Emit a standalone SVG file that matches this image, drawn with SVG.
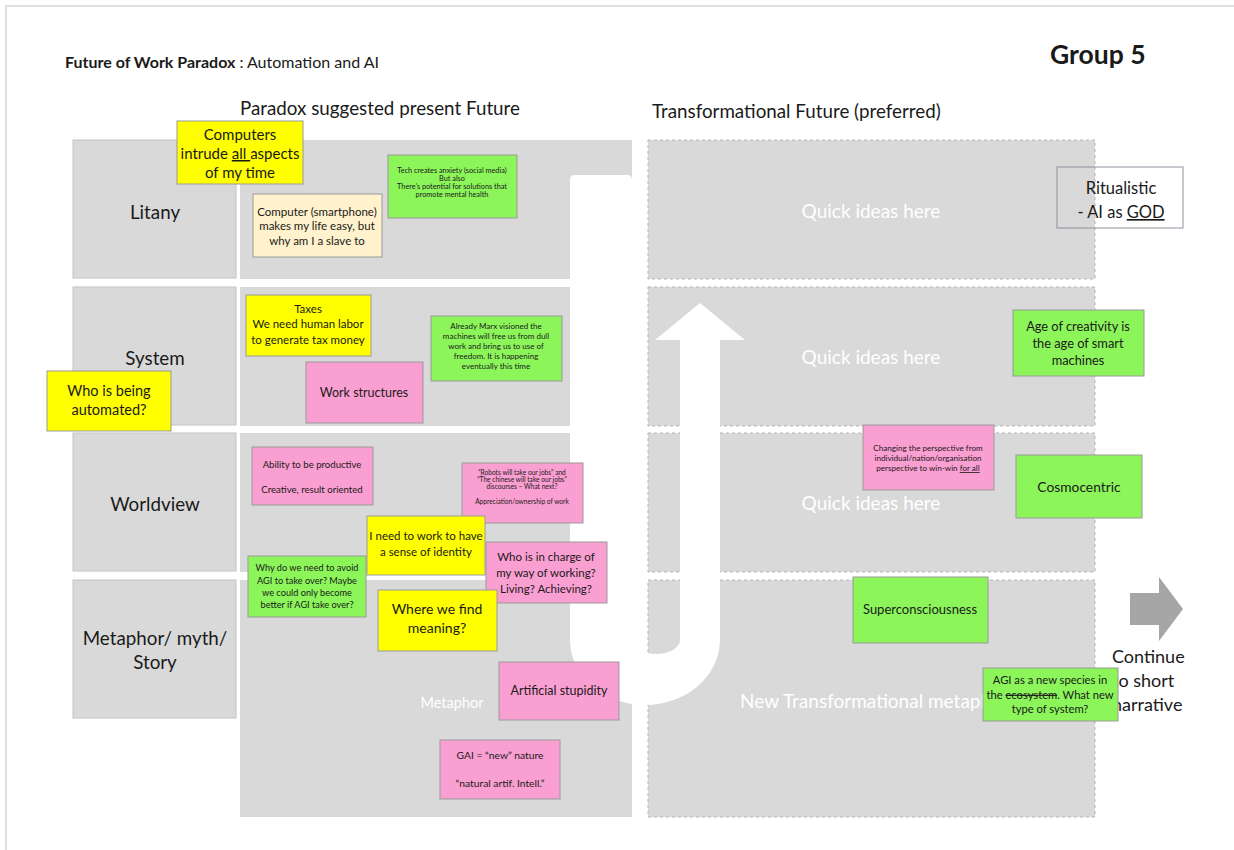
<svg xmlns="http://www.w3.org/2000/svg" width="1234" height="850" viewBox="0 0 1234 850">
  <style>
    text { font-family: Lato, "Liberation Sans", sans-serif; fill: #1a1a1a; }
    .label { font-size: 18.8px; text-anchor: middle; }
    .head { font-size: 18.8px; }
    .rowbox { fill: #d9d9d9; stroke: #c4c4c4; stroke-width: 1; }
    .panel { fill: #d9d9d9; }
    .dpanel { fill: #d9d9d9; stroke: #b5b5b5; stroke-width: 1; stroke-dasharray: 3 3; }
    .ghost { fill: #ffffff; font-size: 19px; }
    .note { stroke: #9a9a9a; stroke-width: 1; }
    .yellow { fill: #ffff00; }
    .cream { fill: #fff2cc; }
    .green { fill: #8cf55a; }
    .pink { fill: #fa9fd2; }
    .nt { text-anchor: middle; }
  </style>
  <defs>
    <!-- placeholder text in the last transformational cell runs under a sticky note -->
    <clipPath id="cell4-clip">
      <rect x="648" y="580" width="335" height="237"/>
    </clipPath>
  </defs>

  <!-- page frame -->
  <path d="M6,850 V6 H1234" fill="none" stroke="#d6d6d6" stroke-width="1.5"/>

  <!-- headings -->
  <g id="title">
    <text x="65" y="68" font-size="16"><tspan font-weight="bold">Future of Work Paradox</tspan> : Automation and AI</text>
    <text x="1050" y="64" font-size="26.5" font-weight="bold">Group 5</text>
    <text class="head" x="240" y="115">Paradox suggested present Future</text>
    <text class="head" x="652" y="118">Transformational Future (preferred)</text>
  </g>

  <!-- row labels -->
  <g id="row-litany">
    <rect class="rowbox" x="73" y="140" width="163" height="138"/>
    <text class="label" x="155" y="219">Litany</text>
  </g>
  <g id="row-system">
    <rect class="rowbox" x="73" y="287" width="163" height="138"/>
    <text class="label" x="155" y="365">System</text>
  </g>
  <g id="row-worldview">
    <rect class="rowbox" x="73" y="433" width="163" height="138"/>
    <text class="label" x="155" y="511">Worldview</text>
  </g>
  <g id="row-metaphor">
    <rect class="rowbox" x="73" y="580" width="163" height="138"/>
    <text class="label" x="155" y="645">Metaphor/ myth/</text>
    <text class="label" x="155" y="669">Story</text>
  </g>

  <!-- present-future column -->
  <g id="present-panels">
    <rect class="panel" x="240" y="140" width="392" height="139"/>
    <rect class="panel" x="240" y="287" width="392" height="139"/>
    <rect class="panel" x="240" y="433" width="392" height="139"/>
    <rect class="panel" x="240" y="580" width="392" height="237"/>
    <text class="ghost" x="452" y="708" style="font-size:14.5px;text-anchor:middle">Metaphor</text>
  </g>

  <!-- transformational column -->
  <g id="future-panels">
    <rect class="dpanel" x="648" y="140" width="447" height="139"/>
    <rect class="dpanel" x="648" y="287" width="447" height="139"/>
    <rect class="dpanel" x="648" y="433" width="447" height="139"/>
    <rect class="dpanel" x="648" y="580" width="447" height="237"/>
    <text class="ghost" x="871" y="218" text-anchor="middle">Quick ideas here</text>
    <text class="ghost" x="871" y="364" text-anchor="middle">Quick ideas here</text>
    <text class="ghost" x="871" y="510" text-anchor="middle">Quick ideas here</text>
    <text class="ghost" x="740" y="708" clip-path="url(#cell4-clip)">New Transformational metaphor</text>
  </g>

  <!-- connectors: U-turn arrow and continue arrow -->
  <g id="connectors">
    <path id="u-turn" fill="#ffffff" d="M570,180 Q570,175 575,175 L627,175 Q632,175 632,180 L632,640 A24,14 0 0 0 680,640 L680,340 L655,340 L700,303 L745,340 L720,340 L720,640 A75,65 0 0 1 570,640 Z"/>
    <path id="continue-arrow" fill="#a6a6a6" d="M1130,593 H1159 V577 L1183,609 L1159,641 V625 H1130 Z"/>
  </g>

  <g id="continue-text">
    <text x="1112" y="663" font-size="18">Continue</text>
    <text x="1112" y="687" font-size="18">to short</text>
    <text x="1112" y="711" font-size="18">narrative</text>
  </g>

  <!-- sticky notes -->
  <g id="note-computers">
    <rect class="note yellow" x="177" y="121" width="126" height="63"/>
    <text class="nt" x="240" y="140" font-size="15">Computers</text>
    <text class="nt" x="240" y="159" font-size="15">intrude <tspan text-decoration="underline">all </tspan>aspects</text>
    <text class="nt" x="240" y="178" font-size="15">of my time</text>
  </g>

  <g id="note-smartphone">
    <rect class="note cream" x="253" y="194" width="129" height="63"/>
    <text class="nt" x="317" y="216" font-size="11.5">Computer (smartphone)</text>
    <text class="nt" x="317" y="230" font-size="11.5">makes my life easy, but</text>
    <text class="nt" x="317" y="245" font-size="11.5">why am I a slave to</text>
  </g>

  <g id="note-anxiety">
    <rect class="note green" x="388" y="155" width="129" height="63"/>
    <text class="nt" x="452" y="173" font-size="7.3">Tech creates anxiety (social media)</text>
    <text class="nt" x="452" y="181" font-size="7.3">But also</text>
    <text class="nt" x="452" y="189" font-size="7.3">There's potential for solutions that</text>
    <text class="nt" x="452" y="197" font-size="7.3">promote mental health</text>
  </g>

  <g id="note-taxes">
    <rect class="note yellow" x="246" y="295" width="125" height="61"/>
    <text class="nt" x="308" y="313" font-size="11.5">Taxes</text>
    <text class="nt" x="308" y="328" font-size="11.5">We need human labor</text>
    <text class="nt" x="308" y="344" font-size="11.5">to generate tax money</text>
  </g>

  <g id="note-marx">
    <rect class="note green" x="431" y="316" width="131" height="65"/>
    <text class="nt" x="496" y="329" font-size="8">Already Marx visioned the</text>
    <text class="nt" x="496" y="339" font-size="8">machines will free us from dull</text>
    <text class="nt" x="496" y="349" font-size="8">work and bring us to use of</text>
    <text class="nt" x="496" y="359" font-size="8">freedom. It is happening</text>
    <text class="nt" x="496" y="369" font-size="8">eventually this time</text>
  </g>

  <g id="note-work-structures">
    <rect class="note pink" x="306" y="362" width="117" height="61"/>
    <text class="nt" x="364" y="397" font-size="12.5">Work structures</text>
  </g>

  <g id="note-automated">
    <rect class="note yellow" x="47" y="371" width="124" height="60"/>
    <text class="nt" x="109" y="396" font-size="14.5">Who is being</text>
    <text class="nt" x="109" y="415" font-size="14.5">automated?</text>
  </g>

  <g id="note-productive">
    <rect class="note pink" x="252" y="447" width="121" height="58"/>
    <text class="nt" x="312" y="468" font-size="9.6">Ability to be productive</text>
    <text class="nt" x="312" y="493" font-size="9.6">Creative, result oriented</text>
  </g>

  <g id="note-robots">
    <rect class="note pink" x="462" y="463" width="121" height="60"/>
    <text class="nt" x="522" y="475" font-size="6.6">“Robots will take our jobs” and</text>
    <text class="nt" x="522" y="482" font-size="6.6">“The chinese will take our jobs”</text>
    <text class="nt" x="522" y="489" font-size="6.6">discourses – What next?</text>
    <text class="nt" x="522" y="504" font-size="6.6">Appreciation/ownership of work</text>
  </g>

  <g id="note-identity">
    <rect class="note yellow" x="367" y="516" width="118" height="59"/>
    <text class="nt" x="426" y="540" font-size="11.5">I need to work to have</text>
    <text class="nt" x="426" y="556" font-size="11.5">a sense of identity</text>
  </g>

  <g id="note-in-charge">
    <rect class="note pink" x="486" y="542" width="121" height="61"/>
    <text class="nt" x="546" y="561" font-size="11.5">Who is in charge of</text>
    <text class="nt" x="546" y="577" font-size="11.5">my way of working?</text>
    <text class="nt" x="546" y="593" font-size="11.5">Living? Achieving?</text>
  </g>

  <g id="note-avoid-agi">
    <rect class="note green" x="248" y="556" width="118" height="61"/>
    <text class="nt" x="307" y="571" font-size="9.2">Why do we need to avoid</text>
    <text class="nt" x="307" y="584" font-size="9.2">AGI to take over? Maybe</text>
    <text class="nt" x="307" y="596" font-size="9.2">we could only become</text>
    <text class="nt" x="307" y="608" font-size="9.2">better if AGI take over?</text>
  </g>

  <g id="note-meaning">
    <rect class="note yellow" x="378" y="590" width="119" height="61"/>
    <text class="nt" x="437" y="614" font-size="14">Where we find</text>
    <text class="nt" x="437" y="633" font-size="14">meaning?</text>
  </g>

  <g id="note-stupidity">
    <rect class="note pink" x="499" y="662" width="120" height="58"/>
    <text class="nt" x="559" y="695" font-size="12.5">Artificial stupidity</text>
  </g>

  <g id="note-gai">
    <rect class="note pink" x="440" y="740" width="120" height="59"/>
    <text class="nt" x="500" y="759" font-size="10.3">GAI = “new” nature</text>
    <text class="nt" x="500" y="787" font-size="10.3">“natural artif. Intell.”</text>
  </g>

  <g id="note-ritualistic">
    <rect x="1057" y="167" width="126" height="61" fill="none" stroke="#8c919b" stroke-width="1"/>
    <text class="nt" x="1121" y="194" font-size="16.5">Ritualistic</text>
    <text class="nt" x="1121" y="218" font-size="16.5">- AI as <tspan text-decoration="underline">GOD</tspan></text>
  </g>

  <g id="note-creativity">
    <rect class="note green" x="1013" y="310" width="131" height="66"/>
    <text class="nt" x="1078" y="331" font-size="12.8">Age of creativity is</text>
    <text class="nt" x="1078" y="348" font-size="12.8">the age of smart</text>
    <text class="nt" x="1078" y="365" font-size="12.8">machines</text>
  </g>

  <g id="note-perspective">
    <rect class="note pink" x="863" y="425" width="131" height="65"/>
    <text class="nt" x="928" y="451" font-size="8.1">Changing the perspective from</text>
    <text class="nt" x="928" y="461" font-size="8.1">individual/nation/organisation</text>
    <text class="nt" x="928" y="471" font-size="8.1">perspective to win-win <tspan text-decoration="underline">for all</tspan></text>
  </g>

  <g id="note-cosmocentric">
    <rect class="note green" x="1016" y="455" width="126" height="63"/>
    <text class="nt" x="1079" y="492" font-size="13.8">Cosmocentric</text>
  </g>

  <g id="note-superconsciousness">
    <rect class="note green" x="853" y="577" width="135" height="66"/>
    <text class="nt" x="920" y="614" font-size="13">Superconsciousness</text>
  </g>

  <g id="note-new-species">
    <rect class="note green" x="983" y="668" width="135" height="53"/>
    <text class="nt" x="1050" y="684" font-size="11.2">AGI as a new species in</text>
    <text class="nt" x="1050" y="699" font-size="11.2">the <tspan text-decoration="line-through">ecosystem</tspan>. What new</text>
    <text class="nt" x="1050" y="713" font-size="11.2">type of system?</text>
  </g>
</svg>
